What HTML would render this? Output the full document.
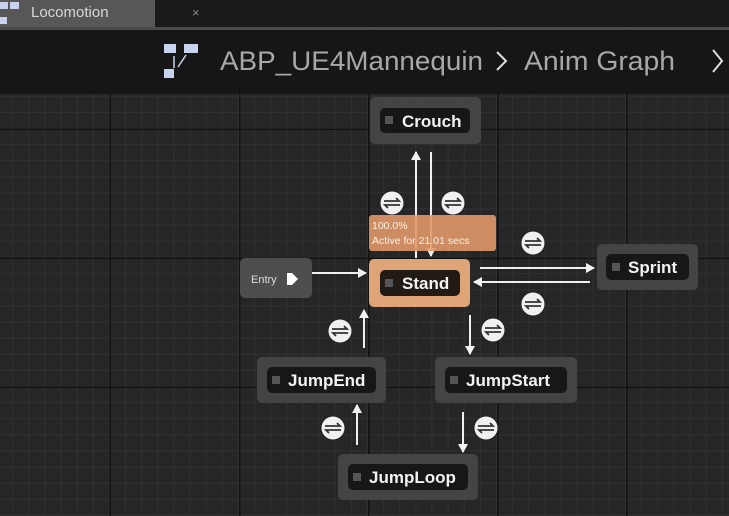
<!DOCTYPE html>
<html><head><meta charset="utf-8"><style>
html,body{margin:0;padding:0;width:729px;height:516px;overflow:hidden;background:#262626;font-family:"Liberation Sans",sans-serif}
svg{display:block}
</style></head><body>
<svg width="729" height="516" xmlns="http://www.w3.org/2000/svg">
<defs>
<pattern id="minor" x="-19" y="0" width="16.125" height="16.125" patternUnits="userSpaceOnUse">
<rect width="16.125" height="16.125" fill="#262626"/>
<rect x="15" y="0" width="1.2" height="16.125" fill="#303030"/>
<rect x="0" y="15" width="16.125" height="1.2" fill="#303030"/>
</pattern>
<marker id="ah" markerWidth="10" markerHeight="10" refX="8" refY="5" orient="auto" markerUnits="userSpaceOnUse">
<path d="M0,0 L9,5 L0,10 Z" fill="#f2f2f2"/>
</marker>
<g id="tr">
<circle r="12" fill="#f0f0f0" stroke="#222" stroke-width="1"/>
<path d="M-8,-2 H7 L4,-5 M8,2 H-7 L-4,5" stroke="#333" stroke-width="1.8" fill="none"/>
</g>
</defs>
<rect width="729" height="516" fill="url(#minor)"/>
<g fill="#121212">
<rect x="109.5" y="0" width="1.5" height="516"/>
<rect x="239" y="0" width="1.5" height="516"/>
<rect x="368" y="0" width="1.5" height="516"/>
<rect x="497" y="0" width="1.5" height="516"/>
<rect x="626" y="0" width="1.5" height="516"/>
<rect x="0" y="128.5" width="729" height="1.5"/>
<rect x="0" y="257.5" width="729" height="1.5"/>
<rect x="0" y="386.5" width="729" height="1.5"/>
</g>
<!-- header -->
<rect x="0" y="0" width="729" height="28" fill="#1a1a1a"/>
<rect x="0" y="0" width="155" height="28" fill="#575757"/>
<rect x="0" y="27" width="729" height="3" fill="#4a4a4a"/>
<rect x="0" y="30" width="729" height="64" fill="#151515" opacity="0.92"/>
<g fill="#c8d4ee"><rect x="0" y="2" width="8" height="7"/><rect x="10" y="2" width="9" height="7"/><rect x="0" y="17" width="7" height="7"/></g>
<text x="31" y="17" fill="#d8d8d8" font-size="15">Locomotion</text>
<text x="192" y="17" fill="#888" font-size="13">×</text>
<g fill="#c8d4ee"><rect x="164" y="44" width="12" height="9"/><rect x="184" y="44" width="14" height="9"/><rect x="164" y="69" width="10" height="9"/></g>
<path d="M174,56 V68 M186,55 L178,67" stroke="#c8d4ee" stroke-width="1.5"/>
<text x="220" y="70" fill="#a8a8a8" font-size="27" textLength="263" lengthAdjust="spacingAndGlyphs">ABP_UE4Mannequin</text>
<path d="M497,52 L506,61 L497,70" stroke="#ddd" stroke-width="2" fill="none"/>
<text x="524" y="70" fill="#a8a8a8" font-size="27" textLength="151" lengthAdjust="spacingAndGlyphs">Anim Graph</text>
<path d="M713,50 L722,61 L713,72" stroke="#ddd" stroke-width="2" fill="none"/>
<!-- connectors -->
<g stroke="#f0f0f0" stroke-width="2" fill="none">
<line x1="416" y1="258" x2="416" y2="152" marker-end="url(#ah)"/>
<line x1="431" y1="152" x2="431" y2="256" marker-end="url(#ah)"/>
<line x1="312" y1="273" x2="366" y2="273" marker-end="url(#ah)"/>
<line x1="480" y1="268" x2="594" y2="268" marker-end="url(#ah)"/>
<line x1="590" y1="282" x2="474" y2="282" marker-end="url(#ah)"/>
<line x1="470" y1="315" x2="470" y2="354" marker-end="url(#ah)"/>
<line x1="364" y1="348" x2="364" y2="310" marker-end="url(#ah)"/>
<line x1="463" y1="412" x2="463" y2="452" marker-end="url(#ah)"/>
<line x1="357" y1="445" x2="357" y2="405" marker-end="url(#ah)"/>
</g>
<use href="#tr" x="392" y="203"/>
<use href="#tr" x="453" y="203"/>
<use href="#tr" x="533" y="243"/>
<use href="#tr" x="533" y="304"/>
<use href="#tr" x="340" y="331"/>
<use href="#tr" x="493" y="330"/>
<use href="#tr" x="333" y="428"/>
<use href="#tr" x="486" y="428"/>
<!-- tooltip -->
<rect x="369" y="215" width="127" height="36" rx="3" fill="#e09868" opacity="0.9"/>
<text x="372" y="229" fill="#fff2e6" font-size="10.5">100.0%</text>
<text x="372" y="244" fill="#fff2e6" font-size="10.5">Active for 21.01 secs</text>
<!-- Entry -->
<rect x="240" y="258" width="72" height="40" rx="5" fill="#4d4d4d"/>
<text x="251" y="283" fill="#ddd" font-size="11">Entry</text>
<path d="M287,273 h5 l6,6 l-6,6 h-5z" fill="#fff"/>
<!-- nodes -->
<g font-weight="bold" font-size="17" fill="#f2f2f2">
<rect x="370" y="97" width="111" height="47" rx="5" fill="#444"/>
<rect x="380" y="108" width="90" height="25" rx="5" fill="#171717"/>
<rect x="385" y="116" width="8" height="8" fill="#555"/>
<text x="402" y="127">Crouch</text>

<rect x="369" y="259" width="101" height="48" rx="5" fill="#dfa478"/>
<rect x="380" y="270" width="80" height="26" rx="5" fill="#221a14"/>
<rect x="385" y="279" width="8" height="8" fill="#555"/>
<text x="402" y="289">Stand</text>

<rect x="597" y="244" width="101" height="46" rx="5" fill="#444"/>
<rect x="606" y="254" width="83" height="26" rx="5" fill="#171717"/>
<rect x="612" y="263" width="8" height="8" fill="#555"/>
<text x="628" y="273">Sprint</text>

<rect x="257" y="357" width="129" height="46" rx="5" fill="#444"/>
<rect x="267" y="367" width="109" height="26" rx="5" fill="#171717"/>
<rect x="272" y="376" width="8" height="8" fill="#555"/>
<text x="288" y="386">JumpEnd</text>

<rect x="435" y="357" width="142" height="46" rx="5" fill="#444"/>
<rect x="445" y="367" width="122" height="26" rx="5" fill="#171717"/>
<rect x="450" y="376" width="8" height="8" fill="#555"/>
<text x="466" y="386">JumpStart</text>

<rect x="338" y="454" width="140" height="46" rx="5" fill="#444"/>
<rect x="348" y="464" width="120" height="26" rx="5" fill="#171717"/>
<rect x="353" y="473" width="8" height="8" fill="#555"/>
<text x="369" y="483">JumpLoop</text>
</g>
</svg>
</body></html>
